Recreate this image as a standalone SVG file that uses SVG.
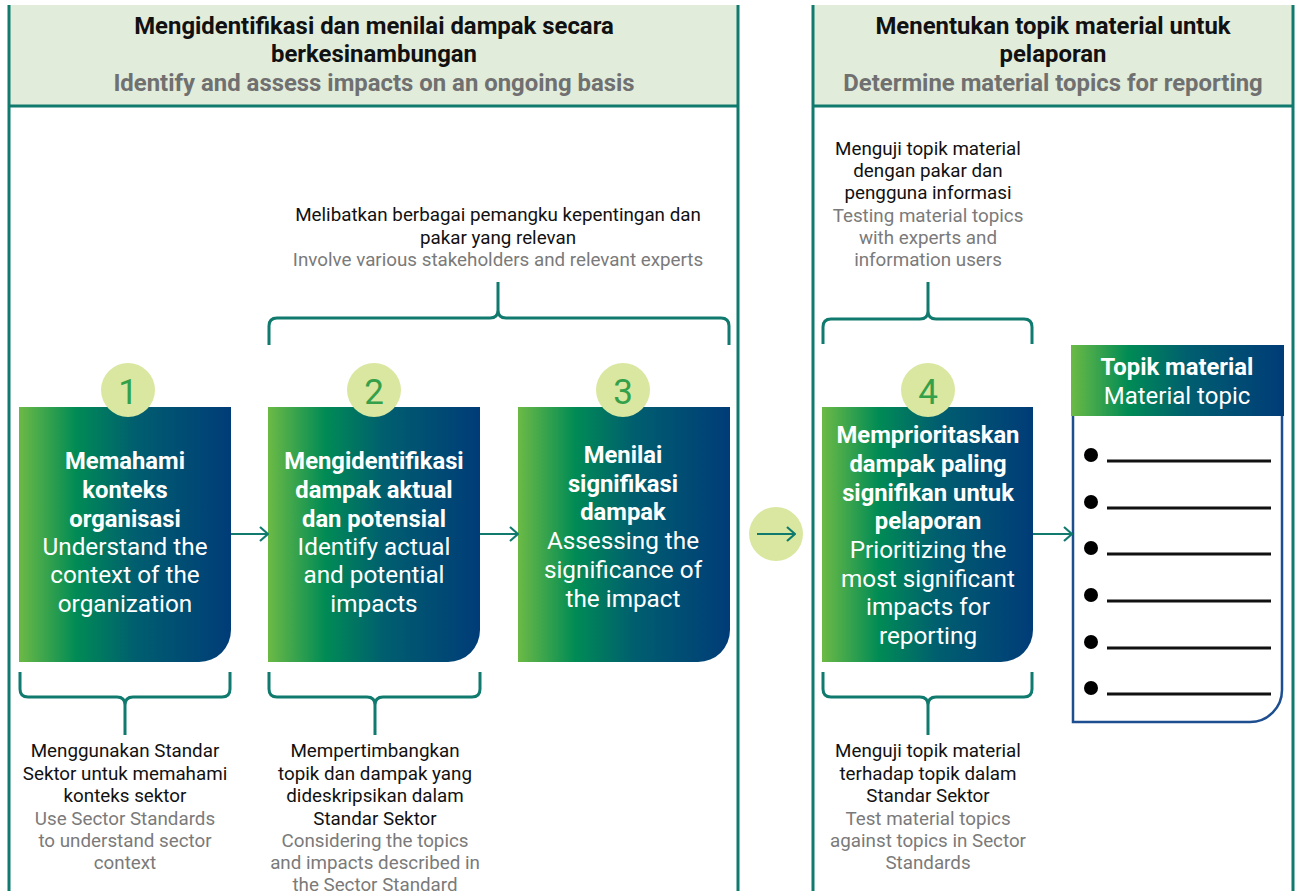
<svg xmlns="http://www.w3.org/2000/svg" width="1295" height="891" viewBox="0 0 1295 891">
<defs>
<linearGradient id="g" x1="0" y1="0" x2="1" y2="0">
<stop offset="0" stop-color="#6cba45"/>
<stop offset="0.27" stop-color="#008b55"/>
<stop offset="0.55" stop-color="#005e6f"/>
<stop offset="1" stop-color="#003c78"/>
</linearGradient>
<marker id="ah" viewBox="0 0 10 16" markerWidth="10" markerHeight="16" refX="9" refY="8" orient="auto" markerUnits="userSpaceOnUse">
<path d="M1,1 L9,8 L1,15" fill="none" stroke="#0f7a6d" stroke-width="2.2"/>
</marker>
<style>
text{font-family:Roboto,"Liberation Sans",sans-serif;text-anchor:middle}
.hb{font-size:23.9px;font-weight:bold;fill:#111}
.hg{font-size:23.9px;font-weight:bold;fill:#707070}
.bb{font-size:23.8px;font-weight:bold;fill:#fff}
.br{font-size:24.3px;fill:#fff}
.tk{font-size:18.8px;fill:#111}
.tg{font-size:18.8px;fill:#7a7a7a}
.num{font-size:35px;fill:#34a04a}
.circ{fill:#d9e7a0}
.pan{stroke:#0f7a6d;stroke-width:3;fill:none}
.brk{stroke:#0f7a6d;stroke-width:3;fill:none}
.con{stroke:#0f7a6d;stroke-width:2.2;fill:none}
</style>
</defs>
<rect width="1295" height="891" fill="#fff"/>

<g id="panel-left">
<rect x="9" y="5" width="729" height="101" fill="#e2ecdb"/>
<line class="pan" x1="9" y1="106" x2="738" y2="106"/>
<line class="pan" x1="9" y1="5" x2="9" y2="891"/>
<line class="pan" x1="738" y1="5" x2="738" y2="891"/>
<text class="hb" x="374" y="34">Mengidentifikasi dan menilai dampak secara</text>
<text class="hb" x="374" y="62">berkesinambungan</text>
<text class="hg" x="374" y="91">Identify and assess impacts on an ongoing basis</text>
</g>

<g id="panel-right">
<rect x="813" y="5" width="480" height="101" fill="#e2ecdb"/>
<line class="pan" x1="813" y1="106" x2="1293" y2="106"/>
<line class="pan" x1="813" y1="5" x2="813" y2="891"/>
<line class="pan" x1="1293" y1="5" x2="1293" y2="891"/>
<text class="hb" x="1053" y="34">Menentukan topik material untuk</text>
<text class="hb" x="1053" y="62">pelaporan</text>
<text class="hg" x="1053" y="91">Determine material topics for reporting</text>
</g>

<g id="note-stakeholders">
<text class="tk" x="498" y="221">Melibatkan berbagai pemangku kepentingan dan</text>
<text class="tk" x="498" y="244">pakar yang relevan</text>
<text class="tg" x="498" y="266">Involve various stakeholders and relevant experts</text>
</g>

<g id="note-testing-experts">
<text class="tk" x="928" y="155">Menguji topik material</text>
<text class="tk" x="928" y="177">dengan pakar dan</text>
<text class="tk" x="928" y="199">pengguna informasi</text>
<text class="tg" x="928" y="222">Testing material topics</text>
<text class="tg" x="928" y="244">with experts and</text>
<text class="tg" x="928" y="266">information users</text>
</g>

<g id="step1">
<path d="M19,407 H231 V630 A32,32 0 0 1 199,662 H19 Z" fill="url(#g)"/>
<circle class="circ" cx="128" cy="390" r="27"/>
<text class="num" x="128" y="404">1</text>
<text class="bb" x="125" y="469">Memahami</text>
<text class="bb" x="125" y="498">konteks</text>
<text class="bb" x="125" y="527">organisasi</text>
<text class="br" x="125" y="555">Understand the</text>
<text class="br" x="125" y="583">context of the</text>
<text class="br" x="125" y="612">organization</text>
</g>

<g id="step2">
<path d="M268,407 H480 V630 A32,32 0 0 1 448,662 H268 Z" fill="url(#g)"/>
<circle class="circ" cx="374" cy="390" r="27"/>
<text class="num" x="374" y="404">2</text>
<text class="bb" x="374" y="469">Mengidentifikasi</text>
<text class="bb" x="374" y="498">dampak aktual</text>
<text class="bb" x="374" y="527">dan potensial</text>
<text class="br" x="374" y="555">Identify actual</text>
<text class="br" x="374" y="583">and potential</text>
<text class="br" x="374" y="612">impacts</text>
</g>

<g id="step3">
<path d="M518,407 H730 V630 A32,32 0 0 1 698,662 H518 Z" fill="url(#g)"/>
<circle class="circ" cx="623" cy="390" r="27"/>
<text class="num" x="623" y="404">3</text>
<text class="bb" x="623" y="463">Menilai</text>
<text class="bb" x="623" y="492">signifikasi</text>
<text class="bb" x="623" y="520">dampak</text>
<text class="br" x="623" y="549">Assessing the</text>
<text class="br" x="623" y="578">significance of</text>
<text class="br" x="623" y="607">the impact</text>
</g>

<g id="step4">
<path d="M822,407 H1033 V630 A32,32 0 0 1 1001,662 H822 Z" fill="url(#g)"/>
<circle class="circ" cx="928" cy="390" r="27"/>
<text class="num" x="928" y="404">4</text>
<text class="bb" x="928" y="443">Memprioritaskan</text>
<text class="bb" x="928" y="472">dampak paling</text>
<text class="bb" x="928" y="501">signifikan untuk</text>
<text class="bb" x="928" y="529">pelaporan</text>
<text class="br" x="928" y="558">Prioritizing the</text>
<text class="br" x="928" y="587">most significant</text>
<text class="br" x="928" y="615">impacts for</text>
<text class="br" x="928" y="644">reporting</text>
</g>

<g id="material-topic">
<path d="M1073,415 V722 H1250 A32,32 0 0 0 1282,690 V415" fill="#fff" stroke="#1d4e8f" stroke-width="2.5"/>
<rect x="1071" y="345" width="213" height="71" fill="url(#g)"/>
<text class="bb" x="1177" y="375">Topik material</text>
<text class="br" x="1177" y="404" style="font-size:24px">Material topic</text>
<g fill="#000">
<circle cx="1091" cy="455" r="7"/>
<circle cx="1091" cy="502" r="7"/>
<circle cx="1091" cy="548" r="7"/>
<circle cx="1091" cy="595" r="7"/>
<circle cx="1091" cy="642" r="7"/>
<circle cx="1091" cy="688" r="7"/>
</g>
<g stroke="#111" stroke-width="2.8">
<line x1="1107" y1="461" x2="1271" y2="461"/>
<line x1="1107" y1="508" x2="1271" y2="508"/>
<line x1="1107" y1="554" x2="1271" y2="554"/>
<line x1="1107" y1="601" x2="1271" y2="601"/>
<line x1="1107" y1="648" x2="1271" y2="648"/>
<line x1="1107" y1="694" x2="1271" y2="694"/>
</g>
</g>

<g id="note-sector-context">
<text class="tk" x="125" y="757">Menggunakan Standar</text>
<text class="tk" x="125" y="780">Sektor untuk memahami</text>
<text class="tk" x="125" y="802">konteks sektor</text>
<text class="tg" x="125" y="825">Use Sector Standards</text>
<text class="tg" x="125" y="847">to understand sector</text>
<text class="tg" x="125" y="869">context</text>
</g>

<g id="note-sector-topics">
<text class="tk" x="375" y="757">Mempertimbangkan</text>
<text class="tk" x="375" y="780">topik dan dampak yang</text>
<text class="tk" x="375" y="802">dideskripsikan dalam</text>
<text class="tk" x="375" y="825">Standar Sektor</text>
<text class="tg" x="375" y="847">Considering the topics</text>
<text class="tg" x="375" y="869">and impacts described in</text>
<text class="tg" x="375" y="891">the Sector Standard</text>
</g>

<g id="note-test-sector">
<text class="tk" x="928" y="757">Menguji topik material</text>
<text class="tk" x="928" y="780">terhadap topik dalam</text>
<text class="tk" x="928" y="802">Standar Sektor</text>
<text class="tg" x="928" y="825">Test material topics</text>
<text class="tg" x="928" y="847">against topics in Sector</text>
<text class="tg" x="928" y="869">Standards</text>
</g>

<g id="connectors">
<line class="con" x1="231" y1="534" x2="268" y2="534" marker-end="url(#ah)"/>
<line class="con" x1="480" y1="534" x2="518" y2="534" marker-end="url(#ah)"/>
<circle class="circ" cx="776" cy="534" r="27"/>
<line class="con" x1="757" y1="534" x2="795" y2="534" marker-end="url(#ah)"/>
<line class="con" x1="1033" y1="534" x2="1072" y2="534" marker-end="url(#ah)"/>
<path class="brk" d="M269,345 V326 Q269,318 277,318 H490 Q498,318 498,310 Q498,318 506,318 H721 Q729,318 729,326 V345 M498,310 V282"/>
<path class="brk" d="M823,344 V327 Q823,319 831,319 H920 Q928,319 928,311 Q928,319 936,319 H1024 Q1032,319 1032,327 V344 M928,311 V282"/>
<path class="brk" d="M20,672 V689 Q20,697 28,697 H117 Q125,697 125,705 Q125,697 133,697 H222 Q230,697 230,689 V672 M125,705 V735"/>
<path class="brk" d="M269,672 V689 Q269,697 277,697 H367 Q375,697 375,705 Q375,697 383,697 H472 Q480,697 480,689 V672 M375,705 V735"/>
<path class="brk" d="M823,672 V689 Q823,697 831,697 H920 Q928,697 928,705 Q928,697 936,697 H1024 Q1032,697 1032,689 V672 M928,705 V735"/>
</g>
</svg>
